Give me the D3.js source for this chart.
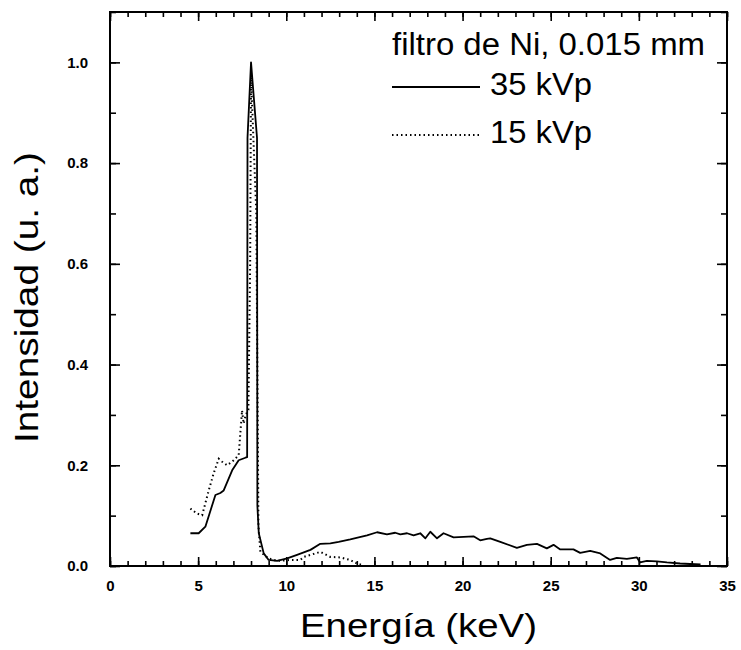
<!DOCTYPE html>
<html>
<head>
<meta charset="utf-8">
<script src="https://cdn.jsdelivr.net/npm/d3@7"></script>
<style>
  body { margin: 0; background: #fff; }
  svg { display: block; font-family: "Liberation Sans", Arial, sans-serif; }
</style>
</head>
<body>
<svg id="chart"></svg>
<script>
// espectro 35 kVp (linea continua)
const energy35 = [4.56, 5.03, 5.41, 5.98, 6.26, 6.45, 6.93, 7.30, 7.68, 7.78, 7.8, 8.0, 8.34, 8.36, 8.44, 8.72, 9.0, 9.48,
  10.05, 10.61, 11.37, 11.93, 12.5, 12.97, 13.63, 14.58, 15.15, 15.71, 16.18, 16.47, 16.85, 17.22, 17.6, 17.89, 18.17,
  18.55, 18.92, 19.49, 20.06, 20.62, 21.0, 21.38, 21.57, 22.14, 23.08, 23.65, 24.22, 24.78, 25.16, 25.54, 26.29, 26.67,
  27.24, 27.81, 28.37, 28.75, 29.32, 29.89, 30.07, 30.45, 31.02, 31.59, 32.34, 32.9, 33.5];
const intens35 = [0.065, 0.065, 0.078, 0.141, 0.145, 0.150, 0.190, 0.210, 0.215, 0.216, 0.85, 1.0, 0.85, 0.12, 0.065, 0.025, 0.012, 0.010,
  0.015, 0.022, 0.032, 0.044, 0.045, 0.048, 0.053, 0.061, 0.067, 0.063, 0.066, 0.063, 0.065, 0.061, 0.065, 0.055, 0.068,
  0.055, 0.065, 0.057, 0.058, 0.059, 0.051, 0.054, 0.055, 0.048, 0.036, 0.042, 0.044, 0.035, 0.042, 0.033, 0.033, 0.026,
  0.030, 0.025, 0.012, 0.016, 0.014, 0.017, 0.007, 0.010, 0.009, 0.007, 0.005, 0.004, 0.003];

// espectro 15 kVp (linea punteada)
const energy15 = [4.56, 4.94, 5.23, 5.6, 5.88, 6.17, 6.36, 6.64, 7.02, 7.30, 7.49, 7.58, 7.7, 7.85, 7.95, 8.0, 8.3, 8.42,
  8.53, 9.0, 9.48, 10.23, 10.8, 10.99, 11.93, 12.5, 13.07, 13.63, 14.0, 14.3];
const intens15 = [0.114, 0.104, 0.101, 0.150, 0.184, 0.213, 0.207, 0.200, 0.210, 0.220, 0.309, 0.283, 0.30, 0.31, 0.6, 0.97, 0.7, 0.08,
  0.028, 0.015, 0.010, 0.012, 0.012, 0.018, 0.028, 0.018, 0.017, 0.012, 0.005, 0.002];

const xMajor = [0, 5, 10, 15, 20, 25, 30, 35];
const xMinor = d3.range(0, 36, 1);
const yMajor = [0.0, 0.2, 0.4, 0.6, 0.8, 1.0];
const yMinor = d3.range(0, 1.11, 0.1);

const legendTitle = "filtro de Ni, 0.015 mm";
const seriesNames = ["35 kVp", "15 kVp"];

const W = 741, H = 650;
const margin = { top: 12, right: 14, bottom: 84, left: 110 };
const width = W - margin.left - margin.right,
      height = H - margin.top - margin.bottom;

const svg = d3.select("#chart").attr("width", W).attr("height", H);
const g = svg.append("g").attr("transform", `translate(${margin.left},${margin.top})`);

const x = d3.scaleLinear().domain([0, 35]).range([0, width]);
const y = d3.scaleLinear().domain([0, 1.1]).range([height, 0]);

// ejes con marcas hacia dentro en los cuatro lados
function styleAxis(sel) {
  sel.select(".domain").remove();
  sel.selectAll(".tick line").attr("stroke", "#000").attr("stroke-width", 1.6);
  sel.selectAll("text").style("font-size", "15px").style("font-weight", "bold").attr("fill", "#000");
}

g.append("g").attr("transform", `translate(0,${height})`)
  .call(d3.axisBottom(x).tickValues(xMinor).tickSize(-5).tickFormat(""))
  .call(styleAxis);
g.append("g").attr("transform", `translate(0,${height})`)
  .call(d3.axisBottom(x).tickValues(xMajor).tickSize(-9).tickPadding(14).tickFormat(d3.format("d")))
  .call(styleAxis);
g.append("g")
  .call(d3.axisTop(x).tickValues(xMinor).tickSize(-5).tickFormat(""))
  .call(styleAxis);
g.append("g")
  .call(d3.axisTop(x).tickValues(xMajor).tickSize(-9).tickFormat(""))
  .call(styleAxis);

g.append("g")
  .call(d3.axisLeft(y).tickValues(yMinor).tickSize(-6).tickFormat(""))
  .call(styleAxis);
g.append("g")
  .call(d3.axisLeft(y).tickValues(yMajor).tickSize(-10).tickPadding(22).tickFormat(d3.format(".1f")))
  .call(styleAxis);
g.append("g").attr("transform", `translate(${width},0)`)
  .call(d3.axisRight(y).tickValues(yMinor).tickSize(-6).tickFormat(""))
  .call(styleAxis);
g.append("g").attr("transform", `translate(${width},0)`)
  .call(d3.axisRight(y).tickValues(yMajor).tickSize(-10).tickFormat(""))
  .call(styleAxis);

g.append("rect")
  .attr("width", width).attr("height", height)
  .attr("fill", "none").attr("stroke", "#000").attr("stroke-width", 2);

// curvas
const line = d3.line().x(d => x(d[0])).y(d => y(d[1]));
const pts35 = energy35.map((e, i) => [e, intens35[i]]);
const pts15 = energy15.map((e, i) => [e, intens15[i]]);

g.append("path").datum(pts15)
  .attr("d", line).attr("fill", "none")
  .attr("stroke", "#000").attr("stroke-width", 2)
  .attr("stroke-dasharray", "1.5,3");

g.append("path").datum(pts35)
  .attr("d", line).attr("fill", "none")
  .attr("stroke", "#000").attr("stroke-width", 1.8)
  .attr("stroke-linejoin", "round");

// leyenda
svg.append("text")
  .attr("x", 392).attr("y", 55)
  .attr("textLength", 313).attr("lengthAdjust", "spacingAndGlyphs")
  .style("font-size", "31px")
  .text(legendTitle);

const legendRows = [
  { y: 95, dash: null, w: 1.8 },
  { y: 143, dash: "1.5,3", w: 2 }
];
legendRows.forEach((r, i) => {
  svg.append("line")
    .attr("x1", 392).attr("x2", 480)
    .attr("y1", r.y - 8).attr("y2", r.y - 8)
    .attr("stroke", "#000").attr("stroke-width", r.w)
    .attr("stroke-dasharray", r.dash);
  svg.append("text")
    .attr("x", 490).attr("y", r.y)
    .attr("textLength", 102).attr("lengthAdjust", "spacingAndGlyphs")
    .style("font-size", "31px")
    .text(seriesNames[i]);
});

// titulos de ejes
svg.append("text")
  .attr("x", 300).attr("y", 637)
  .attr("textLength", 237).attr("lengthAdjust", "spacingAndGlyphs")
  .style("font-size", "33px")
  .text("Energía (keV)");

svg.append("text")
  .attr("transform", "translate(38,443) rotate(-90)")
  .attr("textLength", 291).attr("lengthAdjust", "spacingAndGlyphs")
  .style("font-size", "34px")
  .text("Intensidad (u. a.)");
</script>
</body>
</html>
